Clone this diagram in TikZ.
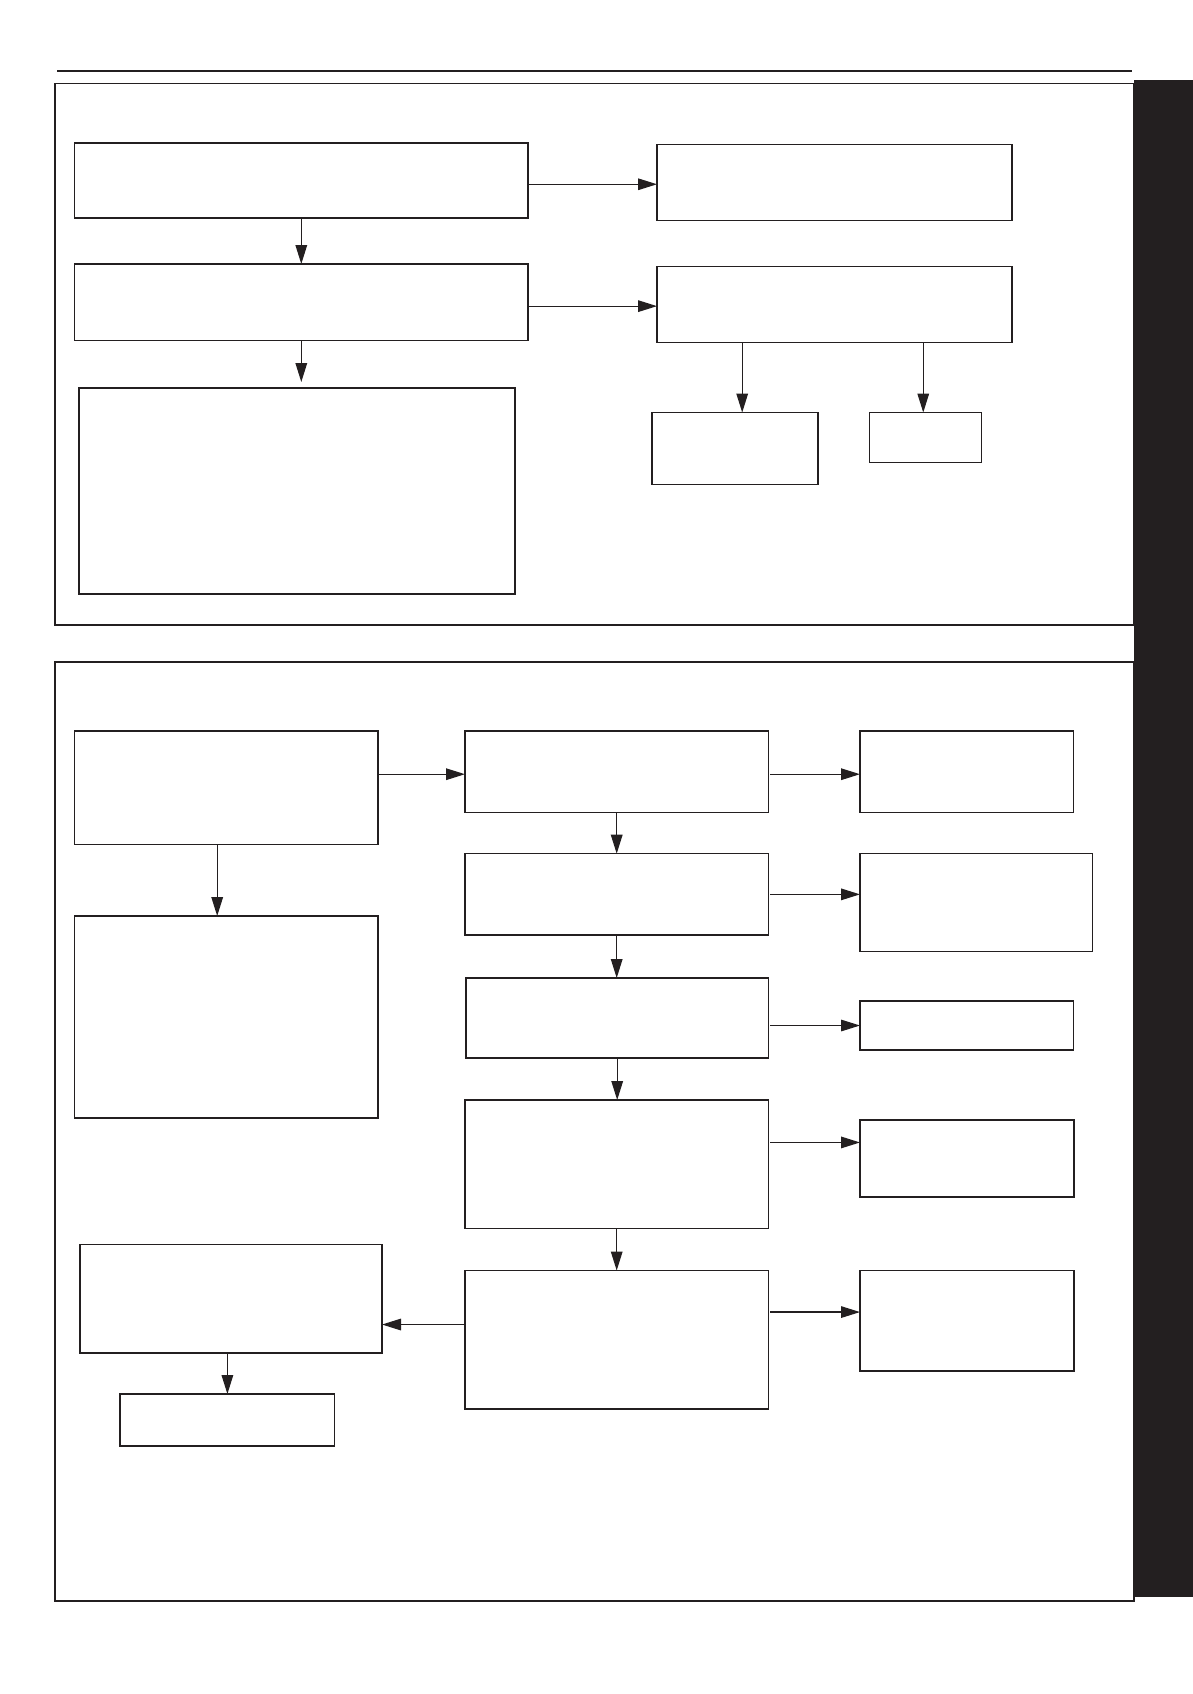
\documentclass[tikz,border=0pt]{standalone}
\usepackage{tikz}
\usetikzlibrary{calc,fit,arrows.meta}
\definecolor{inkblack}{HTML}{231F20}

\begin{document}
\begin{tikzpicture}[x=0.5pt,y=-0.5pt,
		blk/.style={draw=inkblack, line width=0.6pt, inner sep=0pt, outer sep=0pt},
		arr/.style={draw=inkblack, line width=0.6pt, -{Triangle[length=9.5pt,width=5.8pt]}}]
		\useasboundingbox (0,0) rectangle (1193,1694);
		%%%%% FRAMES %%%%%
		\draw[inkblack, line width=1pt] (57,70.5) -- (1132,70.5);
		\draw[inkblack, line width=0.8pt] (55,83.5) rectangle (1134,625);
		\draw[inkblack, line width=0.8pt] (55,662) rectangle (1134,1600.8);
		\fill[inkblack] (1133.5,79.5) rectangle (1193,1597);
		
		%%%%% TOP PANEL %%%%%
		\node[blk, fit={(74.6,143) (528,218)}] (a1) {};
		\node[blk, fit={(657,144.6) (1012,220.5)}] (b1) {};
		\node[blk, fit={(74.6,264) (528,340.6)}] (a2) {};
		\node[blk, fit={(657,266.5) (1012,342.4)}] (b2) {};
		\node[blk, fit={(79,388) (515,594)}] (a3) {};
		\node[blk, fit={(652,412.5) (818,484.4)}] (c1) {};
		\node[blk, fit={(869.6,412.5) (981.4,462.5)}] (c2) {};
		
		\draw[arr] ($(a1.north east)!.55!(a1.south east)$) coordinate (s1) -- (s1 -| b1.west);
		\draw[arr] ($(a2.north east)!.55!(a2.south east)$) coordinate (s2) -- (s2 -| b2.west);
		\draw[arr] (a1.south) -- (a2.north);
		\draw[arr, shorten >=3pt] (a2.south) -- (a2.south |- a3.north);
		\draw[arr] ($(b2.south west)!.24!(b2.south east)$) coordinate (t1) -- (t1 |- c1.north);
		\draw[arr] ($(b2.south west)!.75!(b2.south east)$) coordinate (t2) -- (t2 |- c2.north);
		
		%%%%% BOTTOM PANEL %%%%%
		\node[blk, fit={(74.6,731) (378,844.4)}] (d1) {};
		\node[blk, fit={(74.6,916) (378,1118)}] (d2) {};
		\node[blk, fit={(465,731) (768.4,812.5)}] (e1) {};
		\node[blk, fit={(465,853.7) (768.4,935)}] (e2) {};
		\node[blk, fit={(466,978) (768.4,1058)}] (e3) {};
		\node[blk, fit={(465,1100) (768.4,1228.6)}] (e4) {};
		\node[blk, fit={(465,1270.5) (768.4,1409)}] (e5) {};
		\node[blk, fit={(860,731) (1073.5,812.5)}] (f1) {};
		\node[blk, fit={(860,853.7) (1092.5,951.6)}] (f2) {};
		\node[blk, fit={(860,1001) (1073.5,1050)}] (f3) {};
		\node[blk, fit={(860,1120) (1074,1197)}] (f4) {};
		\node[blk, fit={(860,1270.5) (1074,1371)}] (f5) {};
		\node[blk, fit={(80,1244.6) (382,1353)}] (g1) {};
		\node[blk, fit={(120,1394) (334.8,1446)}] (g2) {};
		
		\coordinate (s3) at ($(e1.north west)!.53!(e1.south west)$);
		\draw[arr] (s3 -| d1.east) -- (s3);
		\draw[arr] ($(d1.south west)!.47!(d1.south east)$) coordinate (t3) -- (t3 |- d2.north);
		\foreach \u/\v in {e1/e2,e2/e3,e3/e4,e4/e5}
			\draw[arr] (\u.south) -- (\u.south |- \v.north);
		\draw[arr, shorten <=1pt] ($(e1.north east)!.53!(e1.south east)$) coordinate (s4) -- (s4 -| f1.west);
		\draw[arr, shorten <=1pt] (e2.east) -- (e2.east -| f2.west);
		\draw[arr, shorten <=1pt] (f3.west -| e3.east) -- (f3.west);
		\draw[arr, shorten <=1pt] ($(e4.north east)!.33!(e4.south east)$) coordinate (t4) -- (t4 -| f4.west);
		\draw[arr, shorten <=1pt] ($(e5.north east)!.30!(e5.south east)$) coordinate (t5) -- (t5 -| f5.west);
		\draw[arr] ($(e5.north west)!.39!(e5.south west)$) coordinate (t6) -- (t6 -| g1.east);
		\draw[arr] (g2.north |- g1.south) -- (g2.north);
		%%%%% END %%%%%
\end{tikzpicture}
\end{document}
